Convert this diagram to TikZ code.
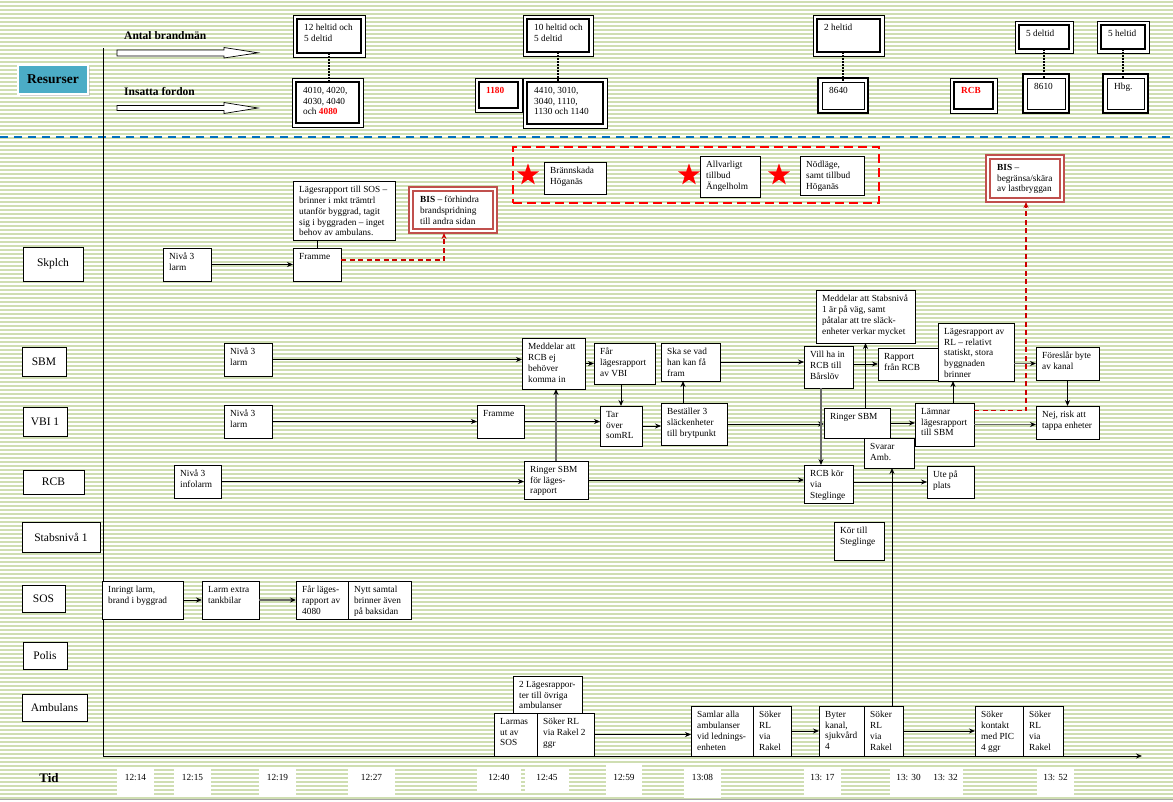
\documentclass[tikz,border=0pt]{standalone}
\usepackage{fontspec}
\setmainfont{Liberation Serif}
\usetikzlibrary{arrows.meta,shapes.geometric,shadows}
\definecolor{stripe}{RGB}{207,222,178}
\definecolor{dblue}{RGB}{0,112,192}
\definecolor{resteal}{RGB}{75,172,198}
\definecolor{bisred}{RGB}{192,80,77}
\definecolor{cred}{RGB}{205,0,0}
\definecolor{lgray}{RGB}{105,105,105}
\newcommand\bx[7][]{%
  \node[box,#1,minimum width={(#5-#3)*1pt},minimum height={(#6-#4)*1pt}] (#2) at ({(#3+#5)/2},{(#4+#6)/2}) {};
  \node[txt] (#2-t) at ([shift={(6pt,-5pt)}]#2.north west) {#7};}
\newcommand\dbx[8][]{%
  \draw[#8] (#3,#4) rectangle (#5,#6);
  \node[#1,minimum width={(#5-#3-8)*1pt},minimum height={(#6-#4-8)*1pt}] (#2) at ({(#3+#5)/2},{(#4+#6)/2}) {};
  \node[txt] (#2-t) at ([shift={(7pt,-5pt)}]#2.north west) {#7};}
\newcommand\tlab[6]{%
  \fill[white] (#2,#3) rectangle (#4,#5);
  \node[tlbl] (#1) at ({(#2+#4)/2},777) {#6};}
\tikzset{
  box/.style={draw=black,line width=0.8pt,fill=white,inner sep=0pt,outer sep=0pt},
  txt/.style={anchor=north west,inner sep=0pt,align=left,font=\fontsize{9.3}{10.8}\selectfont},
  dinA/.style={draw=black,line width=2.4pt,fill=white,inner sep=0pt,outer sep=0pt},
  doutA/.style={draw=black,line width=0.9pt,fill=white},
  dinB/.style={draw=black,line width=0.9pt,fill=white,inner sep=0pt,outer sep=0pt},
  doutB/.style={draw=black,line width=2.6pt,fill=white},
  bisin/.style={draw=bisred,line width=1.2pt,fill=white,inner sep=0pt,outer sep=0pt},
  bisout/.style={draw=bisred,line width=2.2pt,fill=white},
  lane/.style={draw=black,line width=0.8pt,fill=white,inner sep=0pt,font=\fontsize{11.5}{13}\selectfont},
  conn/.style={draw=black,line width=0.8pt},
  arr/.style={conn,-{Stealth[length=6pt,width=5pt]}},
  garr/.style={draw=lgray,line width=1.6pt,-{Stealth[length=6pt,width=5pt,color=black]}},
  rdash/.style={draw=cred,line width=1.6pt,dash pattern=on 5pt off 3.5pt,-{Stealth[length=6pt,width=5pt]}},
  dots/.style={draw=black,line width=2.2pt,dash pattern=on 1.6pt off 1.4pt},
  tlbl/.style={font=\fontsize{9.3}{11}\selectfont,inner sep=0pt},
  redstar/.style={star,star points=5,star point ratio=2.5,fill=red,draw=none,minimum size=23pt,inner sep=0pt},
  barrow/.style={fill=white,draw=black,line width=0.7pt},
  toplbl/.style={anchor=west,inner sep=0pt,font=\bfseries\fontsize{11.5}{13}\selectfont}
}
\begin{document}
\begin{tikzpicture}[x=1pt,y=-1pt]
\useasboundingbox (0,0) rectangle (1173,801);
% background
\fill[white] (0,0) rectangle (1173,801);
\foreach \yy in {1,5,...,797} \fill[stripe] (0,\yy) rectangle (1173,\yy+2.2);
\draw[gray!70,line width=1pt] (0,799.5) -- (1173,799.5);
\draw[dblue,line width=2.5pt,dash pattern=on 8pt off 6pt] (0,137) -- (1173,137);

% axes
\coordinate (ax0) at (103,48);
\coordinate (axO) at (103,756);
\coordinate (axE) at (1142,756);
\draw[conn] (ax0) -- (axO);
\draw[arr] (axO) -- (axE);

% resources header
\node[fill=resteal,draw=white,line width=1.5pt,drop shadow={shadow xshift=2pt,shadow yshift=-2pt,fill=black!35},minimum width=70pt,minimum height=29pt,font=\bfseries\fontsize{13.5}{15}\selectfont] (res) at (53,79.5) {Resurser};
\node[toplbl] (antal) at (124,36) {Antal brandmän};
\node[toplbl] (insatta) at (124,92) {Insatta fordon};
\draw[barrow] (117,50) -- (224,50) -- (224,47.5) -- (258,52.8) -- (224,58) -- (224,56) -- (117,56) -- cycle;
\draw[barrow] (117,105.5) -- (224,105.5) -- (224,102.5) -- (258,108) -- (224,113.5) -- (224,110.5) -- (117,110.5) -- cycle;

\dbx[dinA]{b12}{293}{15}{365}{57}{12 heltid och\\5 deltid}{doutA}
\dbx[dinA]{f4010}{292}{78}{363}{127}{4010, 4020,\\4030, 4040\\och \textcolor{red}{\textbf{4080}}}{doutA}
\dbx[dinA]{b10}{523}{15}{593}{56}{10 heltid och\\5 deltid}{doutA}
\dbx[dinA]{f1180}{475}{78}{522}{112}{\raisebox{-3pt}{\textcolor{red}{\textbf{1180}}}}{doutA}
\dbx[dinA]{f4410}{523}{78}{607}{128}{4410, 3010,\\3040, 1110,\\1130 och 1140}{doutA}
\dbx[dinA]{b2}{813}{15}{884}{56}{2 heltid}{doutA}
\dbx[dinB]{f8640}{818}{78}{868}{113}{8640}{doutB}
\dbx[dinA]{fRCB}{950}{78}{997}{113}{\raisebox{-3pt}{\textcolor{red}{\textbf{RCB}}}}{doutA}
\dbx[dinA]{b5d}{1015}{21}{1073}{53}{5 deltid}{doutA}
\dbx[dinB]{f8610}{1023}{74}{1069}{113}{8610}{doutB}
\dbx[dinA]{b5h}{1097}{21}{1149}{53}{5 heltid}{doutA}
\dbx[dinB]{fHbg}{1103}{74}{1148}{113}{Hbg.}{doutB}

\draw[dots] (b12.south) -- (b12.south |- f4010.north);
\draw[dots] (b10.south) -- (b10.south |- f4410.north);
\draw[dots] (f8640.north |- b2.south) -- (f8640.north);
\draw[dots] (b5d.south) -- (b5d.south |- f8610.north);
\draw[dots] (b5h.south) -- (b5h.south |- fHbg.north);

% lane labels
\node[lane,minimum width=60pt,minimum height=34pt] (lSk) at (53,264) {Skplch};
\node[lane,minimum width=44pt,minimum height=29pt] (lSBM) at (44,361.5) {SBM};
\node[lane,minimum width=44pt,minimum height=29pt] (lVBI) at (45,421.5) {VBI 1};
\node[lane,minimum width=61pt,minimum height=24pt] (lRCB) at (53.5,482) {RCB};
\node[lane,minimum width=78pt,minimum height=30pt] (lStab) at (61,537) {Stabsnivå 1};
\node[lane,minimum width=43pt,minimum height=27pt] (lSOS) at (43.5,598.5) {SOS};
\node[lane,minimum width=44pt,minimum height=27pt] (lPol) at (45,655.5) {Polis};
\node[lane,minimum width=65pt,minimum height=27pt] (lAmb) at (54.5,707.5) {Ambulans};
\node[inner sep=0pt,font=\bfseries\fontsize{13}{15}\selectfont] (tid) at (49,778) {Tid};

% incidents
\node[draw=red,line width=2.6pt,dash pattern=on 9pt off 5pt,minimum width=366pt,minimum height=56pt,inner sep=0pt] (incid) at (696,175) {};
\node[redstar] (st1) at (528,175) {};
\node[redstar] (st2) at (689,175) {};
\node[redstar] (st3) at (779,175) {};
\bx{brann}{544}{162}{606}{194}{Brännskada\\Höganäs}
\bx{allv}{700}{156}{760}{197}{Allvarligt\\tillbud\\Ängelholm}
\bx{nod}{800}{156}{864}{195}{Nödläge,\\samt tillbud\\Höganäs}
\dbx[bisin]{bis2}{986}{155}{1064}{202}{\textbf{BIS} –\\begränsa/skära\\av lastbryggan}{bisout}

% Skplch row
\bx{skNiva}{163}{248}{211}{281}{Nivå 3\\larm}
\bx{skFramme}{293}{248}{341}{281}{Framme}
\bx{skLage}{293}{181}{395}{240}{Lägesrapport till SOS –\\brinner i mkt trämtrl\\utanför byggrad, tagit\\sig i byggraden – inget\\behov av ambulans.}
\dbx[bisin]{bis1}{409}{187}{497}{233}{\textbf{BIS} – förhindra\\brandspridning\\till andra sidan}{bisout}

% SBM row
\bx{sbNiva}{224}{343}{272}{376}{Nivå 3\\larm}
\bx{medd}{522}{338}{585}{389}{Meddelar att\\RCB ej\\behöver\\komma in}
\bx{far}{594}{343}{655}{384}{Får\\lägesrapport\\av VBI}
\bx{ska}{661}{343}{720}{381}{Ska se vad\\han kan få\\fram}
\bx{medStab}{816}{290}{915}{343}{Meddelar att Stabsnivå\\1 är på väg, samt\\påtalar att tre släck-\\enheter verkar mycket}
\bx{vill}{804}{346}{853}{388}{Vill ha in\\RCB till\\Bårslöv}
\bx{rapport}{878}{348}{939}{380}{Rapport\\från RCB}
\bx{lage2}{938}{323}{1014}{381}{Lägesrapport av\\RL – relativt\\statiskt, stora\\byggnaden\\brinner}
\bx{fores}{1036}{347}{1099}{380}{Föreslår byte\\av kanal}

% VBI row
\bx{vbNiva}{224}{405}{272}{438}{Nivå 3\\larm}
\bx{vbFramme}{477}{405}{524}{438}{Framme}
\bx{tar}{600}{406}{642}{446}{Tar\\över\\somRL}
\bx{best}{661}{403}{727}{445}{Beställer 3\\släckenheter\\till brytpunkt}
\bx{ringer2}{824}{408}{890}{438}{Ringer SBM}
\bx{lamnar}{915}{403}{974}{446}{Lämnar\\lägesrapport\\till SBM}
\bx{nej}{1036}{406}{1099}{439}{Nej, risk att\\tappa enheter}
\bx{svarar}{864}{438}{914}{468}{Svarar\\Amb.}

% RCB row
\bx{rcNiva}{174}{465}{221}{498}{Nivå 3\\infolarm}
\bx{ringer1}{524}{461}{588}{499}{Ringer SBM\\för läges-\\rapport}
\bx{rcbkor}{804}{465}{853}{503}{RCB kör\\via\\Steglinge}
\bx{ute}{927}{466}{974}{498}{Ute på\\plats}

% Stabsnivå row
\bx{kor}{834}{522}{884}{560}{Kör till\\Steglinge}

% SOS row
\bx{inr}{102}{581}{183}{619}{Inringt larm,\\brand i byggrad}
\bx{larmx}{202}{581}{259}{619}{Larm extra\\tankbilar}
\bx{farl}{296}{581}{348}{619}{Får läges-\\rapport av\\4080}
\bx{nytt}{348}{581}{411}{619}{Nytt samtal\\brinner även\\på baksidan}

% Ambulans row
\bx{tvaL}{513}{676}{582}{713}{2 Lägesrappor-\\ter till övriga\\ambulanser}
\bx{larmas}{494}{713}{537}{756}{Larmas\\ut av\\SOS}
\bx{sok1}{537}{713}{594}{756}{Söker RL\\via Rakel 2\\ggr}
\bx{samlar}{691}{706}{753}{756}{Samlar alla\\ambulanser\\vid lednings-\\enheten}
\bx{sok2}{753}{706}{791}{756}{Söker\\RL\\via\\Rakel}
\bx{byter}{819}{706}{864}{756}{Byter\\kanal,\\sjukvård\\4}
\bx{sok3}{864}{706}{903}{756}{Söker\\RL\\via\\Rakel}
\bx{sokk}{975}{706}{1023}{756}{Söker\\kontakt\\med PIC\\4 ggr}
\bx{sok4}{1023}{706}{1063}{756}{Söker\\RL\\via\\Rakel}

% connectors
\draw[arr] (skNiva.east) -- (skNiva.east -| skFramme.west);
\draw[conn] (skFramme.north) -- (skFramme.north |- skLage.south);
\coordinate (r1a) at ([yshift=4.5pt]skFramme.east);
\coordinate (r1b) at ([xshift=-9pt,yshift=-4pt]bis1.south);
\draw[rdash] (r1a) -| (r1b);

\draw[arr] (sbNiva.east) -- (sbNiva.east -| medd.west);
\draw[arr] (far.west -| medd.east) -- (far.west);
\draw[arr] (tar.north |- far.south) -- (tar.north);
\draw[arr] (ska.east) -- (ska.east -| vill.west);
\coordinate (bu) at ([xshift=-11pt]best.north);
\draw[arr] (bu) -- (bu |- ska.south);
\draw[arr] (tar.east) -- (tar.east -| best.west);
\draw[arr] (best.east) -- (best.east -| ringer2.west);
\draw[arr] (vbNiva.east) -- (vbNiva.east -| vbFramme.west);
\draw[arr] (vbFramme.east) -- (vbFramme.east -| tar.west);
\draw[garr] (ringer1.north) -- (ringer1.north |- medd.south);
\draw[arr] (rcNiva.east) -- (rcNiva.east -| ringer1.west);
\draw[arr] (ringer1.east) -- (ringer1.east -| rcbkor.west);
\draw[arr] (ute.west -| rcbkor.east) -- (ute.west);
\coordinate (vd) at ([xshift=-7.5pt]vill.south);
\draw[garr] (vd) -- (vd |- rcbkor.north);
\draw[arr] (medStab.south |- ringer2.north) -- (medStab.south);
\draw[arr] (rapport.west -| vill.east) -- (rapport.west);
\draw[arr] (ringer2.east) -- (ringer2.east -| lamnar.west);
\coordinate (lu) at ([xshift=8.5pt]lamnar.north);
\draw[arr] (lu) -- (lu |- lage2.south);
\draw[garr] (fores.west -| lage2.east) -- (fores.west);
\draw[arr] (fores.south) -- (fores.south |- nej.north);
\draw[garr] (lamnar.east) -- (lamnar.east -| nej.west);
\coordinate (r2a) at ([yshift=14pt]lamnar.east);
\coordinate (r2b) at ([xshift=1pt,yshift=-4pt]bis2.south);
\draw[rdash] (r2a) -| (r2b);
\coordinate (sv) at ([xshift=3pt]svarar.south);
\draw[arr] (sv |- sok3.north) -- (sv);
\draw[arr] (inr.east) -- (inr.east -| larmx.west);
\draw[garr] (larmx.east) -- (larmx.east -| farl.west);
\draw[arr] (sok1.east) -- (sok1.east -| samlar.west);
\draw[arr] (sok2.east) -- (sok2.east -| byter.west);
\draw[arr] (sok3.east) -- (sok3.east -| sokk.west);

% time labels
\tlab{t1}{117}{767}{154}{797}{12:14}
\tlab{t2}{174}{767}{211}{797}{12:15}
\tlab{t3}{259}{767}{296}{797}{12:19}
\tlab{t4}{348}{767}{395}{797}{12:27}
\tlab{t5}{477}{767}{521}{793}{12:40}
\tlab{t6}{525}{767}{569}{793}{12:45}
\tlab{t7}{606}{763}{642}{797}{12:59}
\tlab{t8}{684}{767}{721}{798}{13:08}
\tlab{t9}{804}{767}{841}{797}{13: 17}
\fill[white] (890,767) rectangle (963,797);
\node[tlbl] (t10) at (908.5,777) {13: 30};
\node[tlbl] (t11) at (945.5,777) {13: 32};
\tlab{t12}{1037}{767}{1074}{797}{13: 52}
\end{tikzpicture}
\end{document}
